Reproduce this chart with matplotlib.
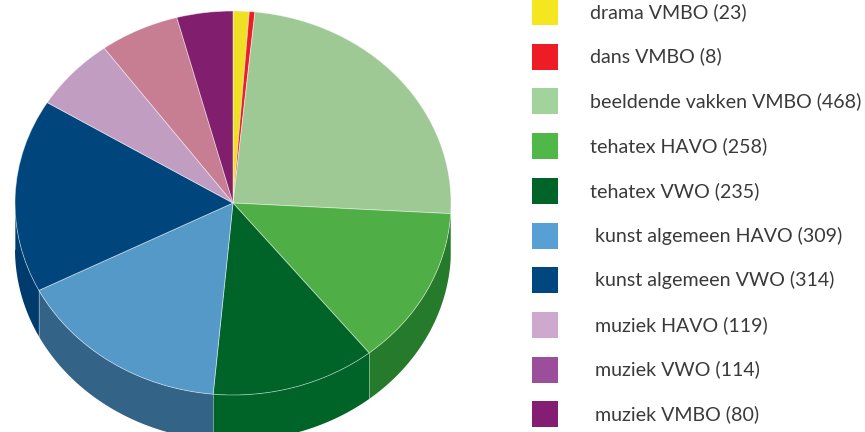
import numpy as np
import matplotlib.pyplot as plt
from matplotlib.transforms import Affine2D

labels = ['drama VMBO', 'dans VMBO', 'beeldende vakken VMBO', 'tehatex HAVO',
          'tehatex VWO', ' kunst algemeen HAVO', ' kunst algemeen VWO',
          ' muziek HAVO', ' muziek VWO', ' muziek VMBO']
counts = [23, 8, 468, 258, 235, 309, 314, 119, 114, 80]

top_colors = ['#f0e024', '#ee1c24', '#9ec995', '#4faf46', '#006428',
              '#5599c8', '#00467d', '#c19dc2', '#c77d92', '#821e6e']
side_colors = ['#c8b81c', '#b8141c', '#7ea877', '#267a2b', '#006428',
               '#336386', '#003b6e', '#9c7c9e', '#a06072', '#641556']
legend_colors = ['#f5e71f', '#ee1c24', '#a3d39c', '#4fb848', '#006428',
                 '#56a0d6', '#004680', '#cfa8ce', '#9b4f9b', '#841e72']

W, H = 865, 432
cx, cy = 233, H - 203
rx, ry = 218, 192
depth = 46

fig = plt.figure(figsize=(W / 100, H / 100), dpi=100)
ax = fig.add_axes([0, 0, 1, 1])

wedges, _ = ax.pie(counts, colors=top_colors, startangle=90, counterclock=False,
                   wedgeprops=dict(linewidth=0.6, edgecolor=(1, 1, 1, 0.5)))
squash = Affine2D().scale(rx, ry).translate(cx, cy)
for w in wedges:
    w.set_transform(squash + ax.transData)
    w.set_zorder(3)

# side walls of the front half
for w, sc in zip(wedges, side_colors):
    t1, t2 = w.theta1, w.theta2
    for k in (-360, 0, 360):
        lo, hi = max(t1, 180 + k), min(t2, 360 + k)
        if hi <= lo:
            continue
        t = np.radians(np.linspace(lo, hi, 80))
        xs = cx + rx * np.cos(t)
        ys = cy + ry * np.sin(t)
        px = np.concatenate([xs, xs[::-1]])
        py = np.concatenate([ys, ys[::-1] - depth])
        ax.fill(px, py, color=sc, lw=0, zorder=1)
        ax.plot([xs[0], xs[0]], [ys[0], ys[0] - depth], color=(1, 1, 1, 0.4), lw=0.6, zorder=2)

ax.set_aspect('auto')
ax.set_xlim(0, W)
ax.set_ylim(0, H)
ax.axis('off')

# legend
y0, step = 12, 44.7
for i, (lab, n, c) in enumerate(zip(labels, counts, legend_colors)):
    y = H - (y0 + i * step)
    ax.scatter([545], [y], s=(26 * 0.72) ** 2, marker='s', color=c, lw=0)
    ax.text(590, y, f'{lab} ({n})', fontsize=14.1, family='Lato',
            color='#3a3a3a', va='center', ha='left')

fig.savefig('out.png', dpi=100)
